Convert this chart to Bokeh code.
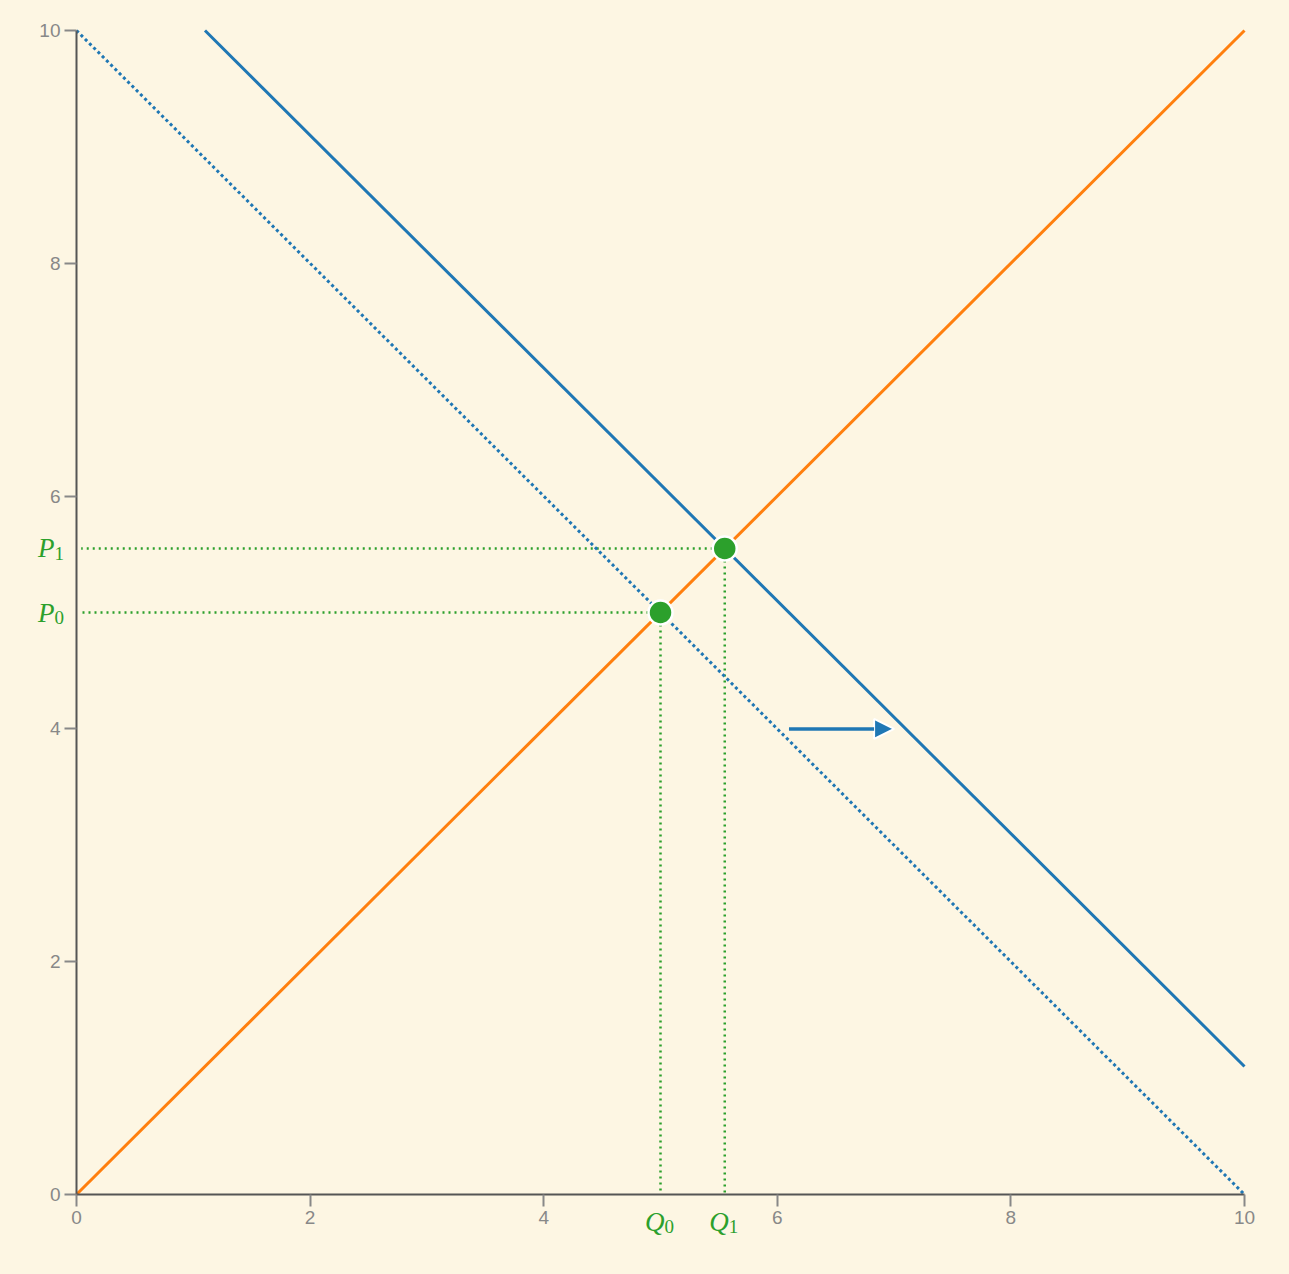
from bokeh.plotting import figure
from bokeh.models import Range1d, Arrow, NormalHead
from bokeh.core.properties import value
from bokeh.embed import file_html
from bokeh.resources import INLINE

BG = "#fdf6e3"
BLUE = "#1f77b4"
ORANGE = "#ff7f0e"
GREEN = "#2ca02c"

# data
supply_x = [0, 10]
supply_y = [0, 10]
demand0_x = [0, 10]
demand0_y = [10, 0]
demand1_x = [1.1, 10]
demand1_y = [10, 1.1]
eq_q = [5.0, 5.55]
eq_p = [5.0, 5.55]
p_letters = ["P", "P"]
q_letters = ["Q", "Q"]
subs = ["0", "1"]
ticks = [0, 2, 4, 6, 8, 10]
arrow_start = (6.1, 4.0)
arrow_end = (7.0, 4.0)

W, H = 1280, 1266
# the frame fills the figure; axes are pinned at 0 and bounded to 0..10
p = figure(width=W, height=H, output_backend="svg", toolbar_location=None,
           x_range=Range1d(-76 / 116.8, 10 + 36 / 116.8),
           y_range=Range1d(-72 / 116.4, 10 + 30 / 116.4),
           background_fill_color=BG, border_fill_color=BG,
           min_border=0, min_border_left=0, min_border_right=0,
           min_border_top=0, min_border_bottom=0)
p.outline_line_color = None
p.grid.visible = False

p.xaxis.fixed_location = 0
p.yaxis.fixed_location = 0
for ax in (p.xaxis[0], p.yaxis[0]):
    ax.bounds = (0, 10)
    ax.ticker = ticks
    ax.axis_line_color = "#555555"
    ax.axis_line_width = 2
    ax.major_tick_line_color = "#888888"
    ax.major_tick_line_width = 2
    ax.major_tick_out = 12
    ax.major_tick_in = 0
    ax.minor_tick_line_color = None
    ax.major_label_text_color = "#888888"
    ax.major_label_text_font = "Liberation Sans"
    ax.major_label_text_font_size = "19px"
    ax.major_label_standoff = 4

# guide lines
for q, pr in zip(eq_q, eq_p):
    p.line([q, 0.04], [pr, pr], line_color=GREEN, line_width=2.5, line_dash="2 4")
    p.line([q, q], [pr, 0], line_color=GREEN, line_width=2.5, line_dash="2 4")

p.line(demand0_x, demand0_y, line_color=BLUE, line_width=3, line_dash="3 3")
p.line(supply_x, supply_y, line_color=ORANGE, line_width=3)
p.line(demand1_x, demand1_y, line_color=BLUE, line_width=3)

p.add_layout(Arrow(x_start=arrow_start[0], y_start=arrow_start[1],
                   x_end=arrow_end[0], y_end=arrow_end[1],
                   line_color=BLUE, line_width=3.5,
                   end=NormalHead(size=20, fill_color=BLUE, line_color="white", line_width=2)))

p.scatter(eq_q, eq_p, size=24, fill_color=GREEN, line_color="white", line_width=2.5)

zeros = [0, 0]
font = value("Liberation Serif")
# P labels left of the price axis
p.text(x=zeros, y=eq_p, text=p_letters, x_offset=-22, y_offset=0,
       text_align="right", text_baseline="alphabetic", text_color=GREEN,
       text_font=font, text_font_style="italic", text_font_size="27px")
p.text(x=zeros, y=eq_p, text=subs, x_offset=-22, y_offset=5,
       text_align="left", text_baseline="alphabetic", text_color=GREEN,
       text_font=font, text_font_size="19px")
# Q labels below the quantity axis
p.text(x=eq_q, y=zeros, text=q_letters, x_offset=4, y_offset=27,
       text_align="right", text_baseline="alphabetic", text_color=GREEN,
       text_font=font, text_font_style="italic", text_font_size="27px")
p.text(x=eq_q, y=zeros, text=subs, x_offset=4, y_offset=32,
       text_align="left", text_baseline="alphabetic", text_color=GREEN,
       text_font=font, text_font_size="19px")

html = file_html(p, INLINE)
html = html.replace("<head>", "<head><style>html,body{background:%s;}</style>" % BG, 1)
open("out.html", "w").write(html)
